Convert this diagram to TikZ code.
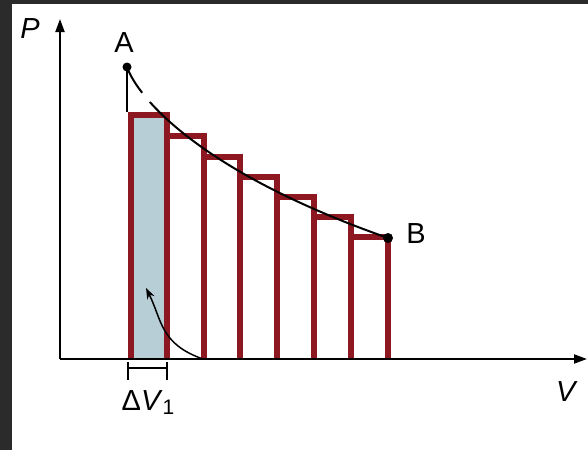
\documentclass[tikz,border=0pt]{standalone}
\usepackage{fontspec}
\setmainfont{Liberation Sans}
\usetikzlibrary{arrows.meta}
\definecolor{barred}{RGB}{142,24,33}
\definecolor{slab}{RGB}{184,206,215}
\definecolor{frame}{RGB}{43,43,43}

\begin{document}
\begin{tikzpicture}[x=1pt,y=-1pt,
  lbl/.style={font=\fontsize{29}{34}\selectfont,inner sep=0pt},
  bar/.style={barred,line width=6.5pt,line join=miter},
  axis/.style={line width=2pt,-{Triangle[length=13pt,width=9pt]}}]
  \useasboundingbox (0,0) rectangle (588,450);
  \fill[frame] (0,0) rectangle (588,450);
  \fill[white] (12,4) rectangle (588,450);
  \coordinate (O) at (60,359);
  \coordinate (Ptop) at (60,19);
  \coordinate (Vend) at (587,359);
  \coordinate (A) at (127,67);
  \coordinate (B) at (388,238);
  \fill[slab] (131,115) rectangle (167,359);
  \draw[line width=1.8pt] (A) -- (127,112);
  \draw[bar] (131,359) |- (167,115) -- (167,359);
  \draw[bar] (167,136) -- (204,136) -- (204,359);
  \draw[bar] (204,157) -- (240,157) -- (240,359);
  \draw[bar] (240,177) -- (277,177) -- (277,359);
  \draw[bar] (277,197) -- (314,197) -- (314,359);
  \draw[bar] (314,217) -- (351,217) -- (351,359);
  \draw[bar] (351,237) -- (388,237) -- (388,359);
  \draw[axis] (O) -- (Ptop);
  \draw[axis] (O) -- (Vend);
  \draw[line width=2pt,dash pattern=on 30pt off 12pt on 1000pt] (A) .. controls (138,98) and (200,172) .. (B);
  \fill (A) circle (4.5);
  \fill (B) circle (5);
  \node[lbl] (labP) at (30,29) {\textit{P}};
  \node[lbl] (labV) at (567,392) {\textit{V}};
  \node[lbl] (labA) at (124,43) {A};
  \node[lbl] (labB) at (416,234) {B};
  \draw[line width=1.5pt] (128,362) -- (128,380) (167,362) -- (167,380) (128,368) -- (167,368);
  \node[lbl,anchor=base] (labdV) at (148,410) {Δ\textit{V}\raisebox{-0.3ex}{\fontsize{21}{24}\selectfont 1}};
  \draw[line width=1.5pt,-{Stealth[length=11pt,width=8pt]}] (203,359) .. controls (160,344) and (162,320) .. (146,288);
\end{tikzpicture}
\end{document}
